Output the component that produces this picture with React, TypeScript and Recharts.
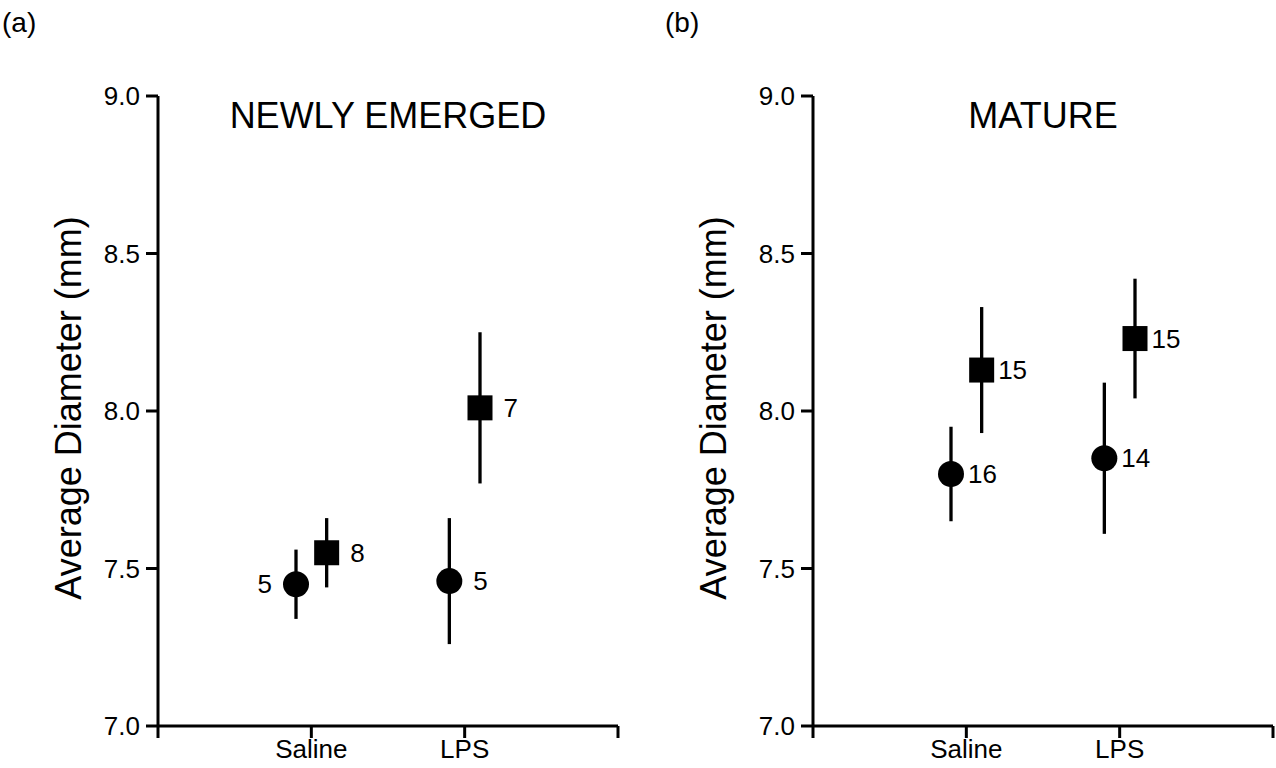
import React from "react";
import { ScatterChart, Scatter, XAxis, YAxis, ErrorBar } from "recharts";

const categories = ["Saline", "LPS"];
const yTicks = [7.0, 7.5, 8.0, 8.5, 9.0];

// newly emerged
const newlyCircleMean = [7.45, 7.46];
const newlyCircleLow = [7.34, 7.26];
const newlyCircleHigh = [7.56, 7.66];
const newlyCircleN = [5, 5];
const newlySquareMean = [7.55, 8.01];
const newlySquareLow = [7.44, 7.77];
const newlySquareHigh = [7.66, 8.25];
const newlySquareN = [8, 7];

// mature
const matureCircleMean = [7.8, 7.85];
const matureCircleLow = [7.65, 7.61];
const matureCircleHigh = [7.95, 8.09];
const matureCircleN = [16, 14];
const matureSquareMean = [8.13, 8.23];
const matureSquareLow = [7.93, 8.04];
const matureSquareHigh = [8.33, 8.42];
const matureSquareN = [15, 15];

const FONT = '"Liberation Sans", Arial, Helvetica, sans-serif';
const OFFSET = 0.1;

function build(mean: number[], low: number[], high: number[], n: number[], offset: number) {
  return mean.map((m, i) => ({
    x: i + 1 + offset,
    y: m,
    err: [m - low[i], high[i] - m],
    n: n[i],
  }));
}

function makeShape(kind: "circle" | "square", gap: number, leftIdx: number[]) {
  return (props: any) => {
    const { cx, cy, index } = props;
    const half = kind === "circle" ? 13 : 12.5;
    const left = leftIdx.includes(index);
    const n = props.payload?.n ?? props.n;
    return (
      <g>
        {kind === "circle" ? (
          <circle cx={cx} cy={cy} r={13} fill="#000" />
        ) : (
          <rect x={cx - 12.5} y={cy - 12.5} width={25} height={25} fill="#000" />
        )}
        <text
          x={left ? cx - half - gap : cx + half + gap}
          y={cy}
          textAnchor={left ? "end" : "start"}
          dominantBaseline="central"
          fontSize={26}
          fontFamily={FONT}
          fill="#000"
        >
          {n}
        </text>
      </g>
    );
  };
}

function YLabel(props: any) {
  const vb = props.viewBox || {};
  const x = props.labelX;
  const y = vb.y + vb.height / 2 - 3;
  return (
    <text
      x={x}
      y={y}
      transform={`rotate(-90, ${x}, ${y})`}
      textAnchor="middle"
      dominantBaseline="central"
      fontSize={36}
      fontFamily={FONT}
      fill="#000"
    >
      Average Diameter (mm)
    </text>
  );
}

function Panel(props: {
  left: number;
  width: number;
  yWidth: number;
  rightMargin: number;
  circles: any[];
  squares: any[];
  gap: number;
  leftCircleLabels: number[];
  labelX: number;
}) {
  const axisStroke = { stroke: "#000", strokeWidth: 3 };
  return (
    <div style={{ position: "absolute", left: props.left, top: 0 }}>
      <ScatterChart
        width={props.width}
        height={768}
        margin={{ top: 96, right: props.rightMargin, bottom: 0, left: 0 }}
      >
        <XAxis
          type="number"
          dataKey="x"
          domain={[0, 3]}
          ticks={[0, 1, 2, 3]}
          height={42}
          tickSize={12}
          tickMargin={2}
          axisLine={axisStroke}
          tickLine={axisStroke}
          tick={{ fontSize: 26, fill: "#000", fontFamily: FONT }}
          tickFormatter={(v: number) => categories[v - 1] ?? ""}
          interval={0}
        />
        <YAxis
          type="number"
          dataKey="y"
          domain={[7, 9]}
          ticks={yTicks}
          width={props.yWidth}
          tickSize={12}
          tickMargin={6}
          axisLine={axisStroke}
          tickLine={axisStroke}
          tick={{ fontSize: 26, fill: "#000", fontFamily: FONT }}
          tickFormatter={(v: number) => v.toFixed(1)}
          interval={0}
          label={<YLabel labelX={props.labelX} />}
        />
        <Scatter
          data={props.circles}
          isAnimationActive={false}
          shape={makeShape("circle", props.gap, props.leftCircleLabels)}
        >
          <ErrorBar dataKey="err" direction="y" width={0} stroke="#000" strokeWidth={3.3} />
        </Scatter>
        <Scatter
          data={props.squares}
          isAnimationActive={false}
          shape={makeShape("square", props.gap, [])}
        >
          <ErrorBar dataKey="err" direction="y" width={0} stroke="#000" strokeWidth={3.3} />
        </Scatter>
      </ScatterChart>
    </div>
  );
}

export default function App() {
  const newlyCircles = build(newlyCircleMean, newlyCircleLow, newlyCircleHigh, newlyCircleN, -OFFSET);
  const newlySquares = build(newlySquareMean, newlySquareLow, newlySquareHigh, newlySquareN, OFFSET);
  const matureCircles = build(matureCircleMean, matureCircleLow, matureCircleHigh, matureCircleN, -OFFSET);
  const matureSquares = build(matureSquareMean, matureSquareLow, matureSquareHigh, matureSquareN, OFFSET);

  return (
    <div
      style={{
        position: "absolute",
        left: 0,
        top: 0,
        width: 1276,
        height: 768,
        background: "#fff",
        fontFamily: FONT,
      }}
    >
      <Panel
        left={0}
        width={640}
        yWidth={158}
        rightMargin={22}
        circles={newlyCircles}
        squares={newlySquares}
        gap={11}
        leftCircleLabels={[0]}
        labelX={68}
      />
      <Panel
        left={640}
        width={636}
        yWidth={173}
        rightMargin={3}
        circles={matureCircles}
        squares={matureSquares}
        gap={4}
        leftCircleLabels={[]}
        labelX={73}
      />
      <svg
        width={1276}
        height={768}
        style={{ position: "absolute", left: 0, top: 0, pointerEvents: "none" }}
      >
        <text x={2} y={32} fontSize={28} fontFamily={FONT} fill="#000">(a)</text>
        <text x={665} y={32} fontSize={28} fontFamily={FONT} fill="#000">(b)</text>
        <text x={388} y={128} fontSize={36} textAnchor="middle" fontFamily={FONT} fill="#000">
          NEWLY EMERGED
        </text>
        <text x={1043} y={128} fontSize={36} textAnchor="middle" fontFamily={FONT} fill="#000">
          MATURE
        </text>
      </svg>
    </div>
  );
}
